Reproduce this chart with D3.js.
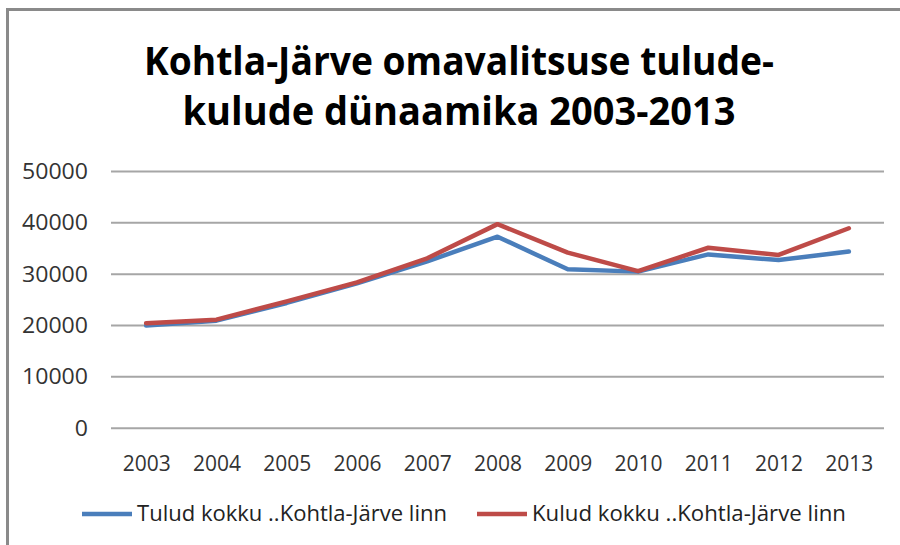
<!DOCTYPE html>
<html>
<head>
<meta charset="utf-8">
<script src="https://cdn.jsdelivr.net/npm/d3@7"></script>
<style>
  html, body { margin: 0; padding: 0; background: #fff; }
  svg { display: block; }
</style>
</head>
<body>
<svg id="chart" width="900" height="545"></svg>
<script>
const titleLines = ["Kohtla-Järve omavalitsuse tulude-", "kulude dünaamika 2003-2013"];
const years = ["2003","2004","2005","2006","2007","2008","2009","2010","2011","2012","2013"];
const tulud = [19900, 20850, 24300, 28100, 32400, 37200, 30850, 30400, 33750, 32650, 34300];
const kulud = [20350, 21050, 24600, 28300, 33000, 39650, 34100, 30500, 35050, 33650, 38850];
const yTicks = [0, 10000, 20000, 30000, 40000, 50000];
const seriesNames = ["Tulud kokku ..Kohtla-Järve linn", "Kulud kokku ..Kohtla-Järve linn"];
const seriesColors = ["#4a7ebb", "#be4b48"];

const svg = d3.select("#chart");
const font = "'Open Sans', 'Liberation Sans', sans-serif";

// frame (top and left edges)
svg.append("line").attr("x1", 7.5).attr("x2", 900).attr("y1", 9.5).attr("y2", 9.5)
  .attr("stroke", "#8a8a8a").attr("stroke-width", 3);
svg.append("line").attr("x1", 7.5).attr("x2", 7.5).attr("y1", 8).attr("y2", 545)
  .attr("stroke", "#8a8a8a").attr("stroke-width", 3);

// title
const titleY = [75, 125];
const titleW = [630, 553];
titleLines.forEach((t, i) => {
  svg.append("text").attr("x", 459).attr("y", titleY[i])
    .attr("text-anchor", "middle")
    .attr("font-family", font).attr("font-weight", 700).attr("font-size", 39)
    .attr("textLength", titleW[i]).attr("lengthAdjust", "spacingAndGlyphs")
    .attr("fill", "#000").text(t);
});

const x = d3.scalePoint().domain(years).range([111, 884]).padding(0.5);
const y = d3.scaleLinear().domain([0, 50000]).range([427.7, 171]);

// gridlines
const yAxis = d3.axisLeft(y).tickValues(yTicks).tickSize(-(884 - 111)).tickFormat(d3.format("d"));
const gy = svg.append("g").attr("transform", "translate(111,0)").call(yAxis);
gy.select(".domain").remove();
gy.selectAll(".tick line").attr("stroke", "#a6a6a6").attr("stroke-width", 2);
gy.selectAll(".tick text").attr("x", -23).attr("dy", "0.35em")
  .attr("font-family", font).attr("font-size", 21).attr("fill", "#333")
  .attr("textLength", d => String(d).length * 13.2).attr("lengthAdjust", "spacingAndGlyphs");

// x axis labels
const xAxis = d3.axisBottom(x).tickSize(0);
const gx = svg.append("g").attr("transform", "translate(0,427.7)").call(xAxis);
gx.select(".domain").remove();
gx.selectAll(".tick text").attr("y", 36).attr("dy", "0.35em")
  .attr("font-family", font).attr("font-size", 21).attr("fill", "#333")
  .attr("textLength", 48).attr("lengthAdjust", "spacingAndGlyphs");

// lines
const line = d3.line().x((d, i) => x(years[i])).y(d => y(d));
[tulud, kulud].forEach((s, i) => {
  svg.append("path").datum(s).attr("d", line)
    .attr("fill", "none").attr("stroke", seriesColors[i]).attr("stroke-width", 4.5)
    .attr("stroke-linejoin", "round").attr("stroke-linecap", "round");
});

// legend
const legX = [82, 477];
const legTextW = [310, 314];
seriesNames.forEach((n, i) => {
  svg.append("line").attr("x1", legX[i]).attr("x2", legX[i] + 50)
    .attr("y1", 514).attr("y2", 514)
    .attr("stroke", seriesColors[i]).attr("stroke-width", 4.5);
  svg.append("text").attr("x", legX[i] + 55).attr("y", 514).attr("dy", "0.35em")
    .attr("font-family", font).attr("font-size", 21).attr("fill", "#222")
    .attr("textLength", legTextW[i]).attr("lengthAdjust", "spacingAndGlyphs")
    .text(n);
});
</script>
</body>
</html>
